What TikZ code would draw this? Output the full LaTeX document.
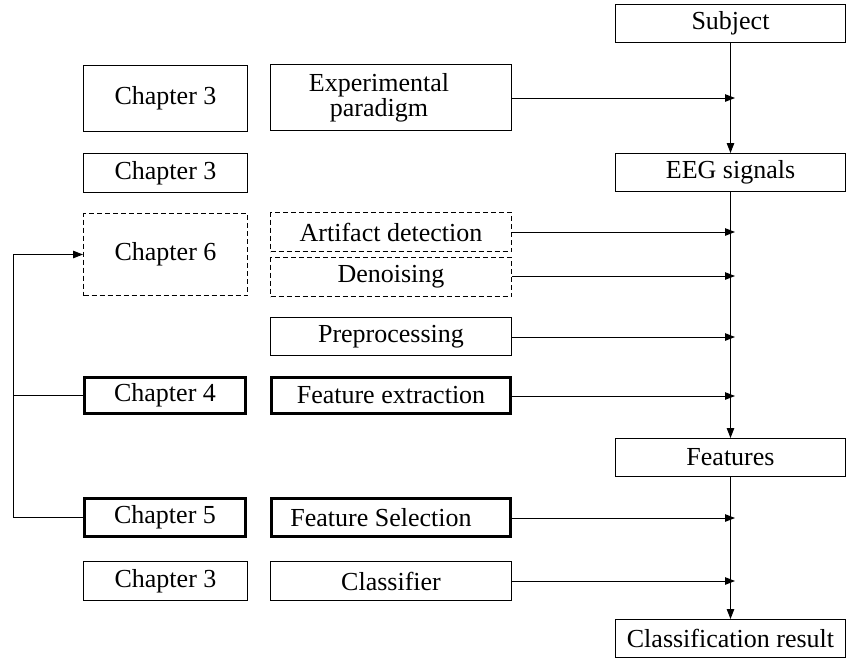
\documentclass[tikz,border=0pt]{standalone}
\usepackage{fontspec}
\setmainfont{Liberation Serif}
\usetikzlibrary{arrows.meta}
\begin{document}
\begin{tikzpicture}[x=1pt,y=-1pt,
  font=\fontsize{26}{22}\selectfont,
  box/.style={draw, line width=1pt, inner sep=0pt, anchor=north west},
  thickbox/.style={box, line width=3pt},
  dashbox/.style={box, dashed, dash pattern=on 5pt off 3pt},
  arr/.style={line width=1pt, -{Triangle[length=10pt,width=7.5pt]}},
  ln/.style={line width=1pt}]
\useasboundingbox (0,0) rectangle (846,659);
% right column
\node[box, minimum width=230pt, minimum height=38pt] (subj) at (615,4) {Subject};
\node[box, minimum width=230pt, minimum height=38pt] (eeg) at (615,153) {EEG signals};
\node[box, minimum width=230pt, minimum height=38pt] (feat) at (615,438) {Features};
\node[box, minimum width=230pt, minimum height=38pt] (res) at (615,619) {Classification result};
% left column
\node[box, minimum width=164pt, minimum height=66pt] (c3a) at (83,65) {Chapter 3};
\node[box, minimum width=164pt, minimum height=39pt] (c3b) at (83,153) {Chapter 3};
\node[dashbox, minimum width=164pt, minimum height=82pt] (c6) at (83,213) {Chapter 6};
\node[thickbox, minimum width=161pt, minimum height=36pt] (c4) at (83,376) {Chapter 4};
\node[thickbox, minimum width=161pt, minimum height=38pt] (c5) at (83,497) {Chapter 5};
\node[box, minimum width=164pt, minimum height=39pt] (c3c) at (83,561) {Chapter 3};
% middle column
\node[box, minimum width=241pt, minimum height=66pt, align=center] (exp) at (270,64) {Experimental\hspace*{24pt}\\paradigm\hspace*{24pt}};
\node[dashbox, minimum width=241pt, minimum height=39pt] (art) at (270,212) {Artifact detection};
\node[dashbox, minimum width=241pt, minimum height=39pt] (den) at (270,257) {Denoising};
\node[box, minimum width=241pt, minimum height=38pt] (pre) at (270,317) {Preprocessing};
\node[thickbox, minimum width=239pt, minimum height=36pt] (fe) at (270,376) {Feature extraction};
\node[thickbox, minimum width=239pt, minimum height=38pt] (fs) at (270,497) {\hspace*{-20pt}Feature Selection};
\node[box, minimum width=241pt, minimum height=39pt] (cls) at (270,561) {Classifier};
% main flow
\draw[arr] (subj.south) -- (eeg.north);
\draw[arr] (eeg.south) -- (feat.north);
\draw[arr] (feat.south) -- (res.north);
% side inputs
\coordinate (vexp) at (735,98);
\coordinate (vart) at (735,232);
\coordinate (vden) at (735,276);
\coordinate (vpre) at (735,337);
\coordinate (vfe) at (735,396);
\coordinate (vfs) at (735,518);
\coordinate (vcls) at (735,581);
\draw[arr] (exp.east |- vexp) -- (vexp);
\draw[arr] (art.east |- vart) -- (vart);
\draw[arr] (den.east |- vden) -- (vden);
\draw[arr] (pre.east |- vpre) -- (vpre);
\draw[arr] (fe.east |- vfe) -- (vfe);
\draw[arr] (fs.east |- vfs) -- (vfs);
\draw[arr] (cls.east |- vcls) -- (vcls);
% feedback loop
\coordinate (lx) at (13,0);
\draw[arr] (c5.west) -- (c5.west -| lx) -- (c6.west -| lx) -- (c6.west);
\draw[ln] (c4.west) -- (c4.west -| lx);
\end{tikzpicture}
\end{document}
